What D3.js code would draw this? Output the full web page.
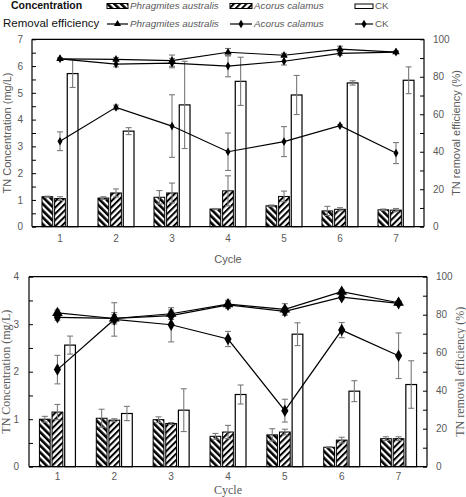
<!DOCTYPE html>
<html>
<head>
<meta charset="utf-8">
<script src="https://cdn.jsdelivr.net/npm/d3@7"></script>
<style>
  html, body { margin: 0; padding: 0; background: #fff; }
  svg { display: block; }
</style>
</head>
<body>
<svg id="chart" width="466" height="497"></svg>
<script>
// ---------- DATA ----------
const cycles = ["1", "2", "3", "4", "5", "6", "7"];
const seriesNames = ["Phragmites australis", "Acorus calamus", "CK"];

// Top panel – TN concentration (mg/L)
const topConcP = [1.12, 1.07, 1.10, 0.66, 0.78, 0.59, 0.63];
const topConcPErr = [0.02, 0.05, 0.25, 0.02, 0.03, 0.17, 0.03];
const topConcA = [1.05, 1.26, 1.26, 1.34, 1.13, 0.65, 0.62];
const topConcAErr = [0.07, 0.15, 0.37, 0.56, 0.20, 0.06, 0.06];
const topConcCK = [5.72, 3.57, 4.55, 5.43, 4.92, 5.37, 5.47];
const topConcCKErr = [0.52, 0.13, 1.63, 0.90, 0.73, 0.08, 0.50];
// Top panel – TN removal efficiency (%)
const topEffP = [89.6, 89.3, 88.6, 93.1, 91.5, 94.8, 93.2];
const topEffPErr = [0.5, 1.0, 3.0, 2.0, 1.0, 1.5, 0.5];
const topEffA = [89.6, 86.8, 87.3, 85.7, 88.3, 92.5, 93.2];
const topEffAErr = [0.5, 1.5, 2.5, 5.7, 2.0, 1.0, 0.5];
const topEffCK = [45.6, 63.7, 53.7, 40.0, 45.4, 53.9, 39.3];
const topEffCKErr = [5.0, 1.2, 16.7, 10.0, 8.0, 0.5, 5.6];

// Bottom panel – TN concentration (mg/L)
const botConcP = [1.00, 1.02, 0.99, 0.64, 0.67, 0.41, 0.59];
const botConcPErr = [0.06, 0.19, 0.06, 0.06, 0.13, 0.01, 0.04];
const botConcA = [1.15, 0.98, 0.91, 0.73, 0.73, 0.56, 0.59];
const botConcAErr = [0.16, 0.03, 0.02, 0.14, 0.06, 0.06, 0.04];
const botConcCK = [2.56, 1.12, 1.19, 1.52, 2.79, 1.59, 1.73];
const botConcCKErr = [0.19, 0.15, 0.45, 0.20, 0.24, 0.22, 0.50];
// Bottom panel – TN removal efficiency (%)
const botEffP = [81.0, 78.0, 80.5, 85.6, 82.8, 92.1, 86.3];
const botEffPErr = [1.5, 2.0, 2.0, 2.0, 3.0, 1.0, 1.0];
const botEffA = [78.6, 78.1, 79.5, 85.2, 81.8, 89.2, 86.0];
const botEffAErr = [1.5, 3.0, 2.0, 2.0, 2.0, 1.0, 1.0];
const botEffCK = [51.1, 77.5, 74.7, 67.2, 29.5, 71.9, 58.4];
const botEffCKErr = [7.5, 8.8, 9.0, 4.0, 6.0, 4.0, 12.0];

const topLeftTicks = d3.range(0, 7.01, 0.5);
const botLeftTicks = d3.range(0, 4.01, 0.5);
const rightTicks = d3.range(0, 100.1, 10);

// ---------- DRAWING ----------
const svg = d3.select("#chart");
const GRAY = "#595959";
const ERR = "#7a7a7a";
const SANS = "'Liberation Sans', Arial, sans-serif";
const SERIF = "'Liberation Serif', 'Times New Roman', serif";

const defs = svg.append("defs");
function stripe(id, angle, w, sw) {
  const p = defs.append("pattern").attr("id", id)
    .attr("patternUnits", "userSpaceOnUse").attr("width", w).attr("height", w)
    .attr("patternTransform", `rotate(${angle})`);
  p.append("rect").attr("width", w).attr("height", w).attr("fill", "#fff");
  p.append("rect").attr("x", 0).attr("y", 0).attr("width", sw).attr("height", w).attr("fill", "#000");
}
stripe("patP", -45, 4.8, 2.6);
stripe("patA", 45, 4.4, 2.0);
const fills = { "Phragmites australis": "url(#patP)", "Acorus calamus": "url(#patA)", "CK": "#fff" };

function panel(cfg) {
  const { left, right, top, bottom, yMax, leftTicks, conc, concErr, eff, effErr, serifTitles, mk, xPad, cycleY } = cfg;
  const g = svg.append("g");
  const x = d3.scaleBand().domain(cycles).range([left, right]).padding(0);
  const xi = d3.scaleBand().domain(seriesNames).range([-18, 18]).paddingInner(0.15);
  const y = d3.scaleLinear().domain([0, yMax]).range([bottom, top]);
  const y2 = d3.scaleLinear().domain([0, 100]).range([bottom, top]);
  const cx = c => x(c) + x.bandwidth() / 2;

  // bars
  seriesNames.forEach((s, si) => {
    g.append("g").selectAll("rect").data(cycles).join("rect")
      .attr("x", (c) => cx(c) + xi(s))
      .attr("width", xi.bandwidth())
      .attr("y", (c, i) => y(conc[si][i]))
      .attr("height", (c, i) => bottom - y(conc[si][i]))
      .attr("fill", fills[s]).attr("stroke", "#000").attr("stroke-width", s === "CK" ? 1.2 : 1);
  });
  // error bars helper
  function errBars(xs, ys, es, sc) {
    const eg = g.append("g").attr("stroke", ERR).attr("stroke-width", 1.1).attr("fill", "none");
    cycles.forEach((c, i) => {
      const xx = xs(c), y0 = sc(ys[i] - es[i]), y1 = sc(ys[i] + es[i]);
      eg.append("line").attr("x1", xx).attr("x2", xx).attr("y1", y0).attr("y2", y1);
      eg.append("line").attr("x1", xx - 3).attr("x2", xx + 3).attr("y1", y0).attr("y2", y0);
      eg.append("line").attr("x1", xx - 3).attr("x2", xx + 3).attr("y1", y1).attr("y2", y1);
    });
  }
  seriesNames.forEach((s, si) => {
    errBars(c => cx(c) + xi(s) + xi.bandwidth() / 2, conc[si], concErr[si], y);
  });
  seriesNames.forEach((s, si) => errBars(cx, eff[si], effErr[si], y2));

  // lines
  const line = d3.line().x((d, i) => cx(cycles[i])).y(d => y2(d));
  const symbols = [d3.symbolTriangle, d3.symbolDiamond, d3.symbolDiamond];
  [2, 1, 0].forEach(si => {
    g.append("path").datum(eff[si]).attr("d", line)
      .attr("fill", "none").attr("stroke", "#000").attr("stroke-width", 1.2);
    g.append("g").selectAll("path").data(eff[si]).join("path")
      .attr("transform", (d, i) => `translate(${cx(cycles[i])},${y2(d)})`)
      .attr("d", d3.symbol().type(symbols[si]).size(si === 0 ? mk * 1.1 : mk))
      .attr("fill", "#000");
  });

  // axes
  const axL = g.append("g").attr("transform", `translate(${left},0)`)
    .call(d3.axisLeft(y).tickValues(leftTicks).tickSize(-4).tickPadding(cfg.lPad)
      .tickFormat(d => Number.isInteger(d) ? d : ""));
  const axR = g.append("g").attr("transform", `translate(${right},0)`)
    .call(d3.axisRight(y2).tickValues(rightTicks).tickSize(-4).tickPadding(cfg.rPad)
      .tickFormat(d => d % 20 === 0 ? d : ""));
  const axB = g.append("g").attr("transform", `translate(0,${bottom})`)
    .call(d3.axisBottom(x).tickSize(0).tickPadding(xPad));
  [axL, axR, axB].forEach(a => {
    a.select(".domain").attr("stroke", "#000").attr("stroke-width", 1.2);
    a.selectAll(".tick line").attr("stroke", "#000");
    a.selectAll("text").attr("fill", GRAY).style("font-family", SANS).style("font-size", "10px");
  });
  axL.select(".domain").attr("d", `M0,${bottom}V${top}`);
  axR.select(".domain").attr("d", `M0,${bottom}V${top}`);
  axB.select(".domain").attr("d", `M${left},0H${right}`);
  g.append("line").attr("x1", left).attr("x2", right).attr("y1", top).attr("y2", top)
    .attr("stroke", "#000").attr("stroke-width", 1.2);

  // titles
  const tf = serifTitles ? SERIF : SANS;
  const ts = serifTitles ? "12px" : "11px";
  const mid = (top + bottom) / 2;
  g.append("text").attr("transform", `translate(${cfg.lTitleX},${mid}) rotate(-90)`)
    .attr("text-anchor", "middle").attr("dominant-baseline", "middle")
    .attr("fill", GRAY).style("font-family", tf).style("font-size", ts)
    .text("TN Concentration (mg/L)");
  g.append("text").attr("transform", `translate(${cfg.rTitleX},${mid}) rotate(-90)`)
    .attr("text-anchor", "middle").attr("dominant-baseline", "middle")
    .attr("fill", GRAY).style("font-family", tf).style("font-size", ts)
    .text("TN removal efficiency (%)");
  g.append("text").attr("x", (left + right) / 2).attr("y", cycleY)
    .attr("text-anchor", "middle").attr("dominant-baseline", "middle")
    .attr("fill", GRAY).style("font-family", tf).style("font-size", ts)
    .text("Cycle");
}

panel({
  left: 32, right: 424, top: 39.3, bottom: 226.7, yMax: 7, leftTicks: topLeftTicks,
  conc: [topConcP, topConcA, topConcCK], concErr: [topConcPErr, topConcAErr, topConcCKErr],
  eff: [topEffP, topEffA, topEffCK], effErr: [topEffPErr, topEffAErr, topEffCKErr],
  serifTitles: false, mk: 22, xPad: 8, lPad: 9, rPad: 9, cycleY: 260, lTitleX: 8, rTitleX: 457
});
panel({
  left: 29, right: 427, top: 276.7, bottom: 466.7, yMax: 4, leftTicks: botLeftTicks,
  conc: [botConcP, botConcA, botConcCK], concErr: [botConcPErr, botConcAErr, botConcCKErr],
  eff: [botEffP, botEffA, botEffCK], effErr: [botEffPErr, botEffAErr, botEffCKErr],
  serifTitles: true, mk: 45, xPad: 6, lPad: 10, rPad: 9, cycleY: 491.5, lTitleX: 7, rTitleX: 461
});

// ---------- LEGEND ----------
const lg = svg.append("g");
lg.append("text").attr("x", 11).attr("y", 6).attr("dominant-baseline", "middle")
  .style("font-family", SANS).style("font-size", "10.5px").style("font-weight", "bold")
  .attr("fill", "#111").text("Concentration");
lg.append("text").attr("x", 3).attr("y", 24).attr("dominant-baseline", "middle")
  .style("font-family", SANS).style("font-size", "11.5px")
  .attr("fill", "#111").text("Removal efficiency");
const legX = [107, 230, 355];
const legW = [21, 22, 18];
seriesNames.forEach((s, i) => {
  lg.append("rect").attr("x", legX[i]).attr("y", s === "CK" ? 4 : 3.5).attr("width", legW[i])
    .attr("height", s === "CK" ? 4.5 : 5).attr("fill", fills[s]).attr("stroke", "#000").attr("stroke-width", 1);
  lg.append("text").attr("x", legX[i] + legW[i] + 2).attr("y", 6).attr("dominant-baseline", "middle")
    .style("font-family", SANS).style("font-size", "9.8px").style("font-style", s === "CK" ? "normal" : "italic")
    .attr("fill", GRAY).text(s);
  lg.append("line").attr("x1", legX[i]).attr("x2", legX[i] + legW[i]).attr("y1", 24).attr("y2", 24)
    .attr("stroke", "#000").attr("stroke-width", 1.2);
  lg.append("path").attr("transform", `translate(${legX[i] + legW[i] / 2},24)`)
    .attr("d", d3.symbol().type(i === 0 ? d3.symbolTriangle : d3.symbolDiamond).size(22)).attr("fill", "#000");
  lg.append("text").attr("x", legX[i] + legW[i] + 2).attr("y", 24).attr("dominant-baseline", "middle")
    .style("font-family", SANS).style("font-size", "9.8px").style("font-style", s === "CK" ? "normal" : "italic")
    .attr("fill", GRAY).text(s);
});
</script>
</body>
</html>
